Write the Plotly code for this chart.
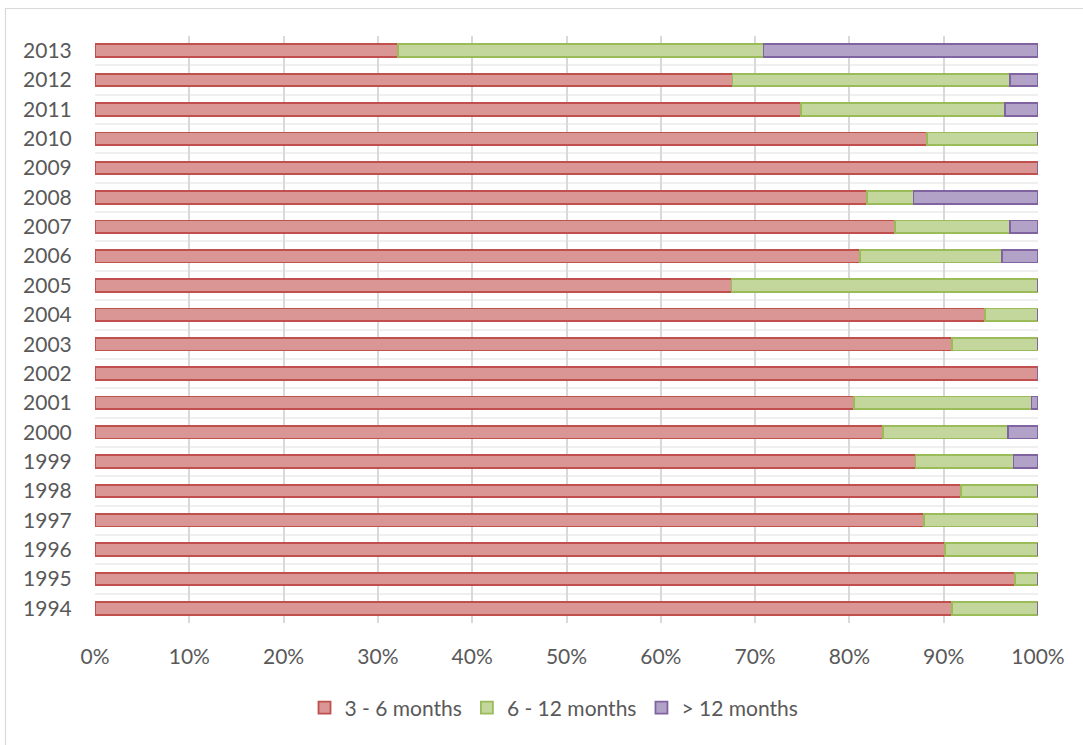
import plotly.graph_objects as go

years = [str(y) for y in range(1994, 2014)]
m3_6 = [90.9, 97.6, 90.1, 87.9, 91.8, 87.0, 83.6, 80.5, 100.0, 90.9,
        94.4, 67.5, 81.1, 84.8, 81.9, 100.0, 88.2, 74.9, 67.6, 32.1]
m6_12 = [9.1, 2.4, 9.9, 12.1, 8.2, 10.4, 13.2, 18.8, 0.0, 9.1,
         5.6, 32.5, 15.1, 12.2, 4.9, 0.0, 11.8, 21.6, 29.4, 38.8]
m12p = [0.0, 0.0, 0.0, 0.0, 0.0, 2.6, 3.2, 0.7, 0.0, 0.0,
        0.0, 0.0, 3.8, 3.0, 13.2, 0.0, 0.0, 3.5, 3.0, 29.1]
series_names = ["3 - 6 months", "6 - 12 months", "> 12 months"]
x_ticks = list(range(0, 101, 10))

fills = ["#D99694", "#C3D69B", "#B3A2C7"]
edges = ["#C0504D", "#9BBB59", "#8064A2"]

ypos = list(range(len(years)))

fig = go.Figure()
for name, vals, fc, ec in zip(series_names, [m3_6, m6_12, m12p], fills, edges):
    fig.add_trace(go.Bar(
        y=ypos, x=vals, name=name, orientation="h",
        marker=dict(color=fc, line=dict(color=ec, width=1.8)),
        hoverinfo="x+name",
    ))

W, H = 1083, 745
ml, mr, mt, mb = 95, 45, 36, 122
pw = W - ml - mr
ph = H - mt - mb

fig.update_layout(
    width=W, height=H,
    barmode="stack", bargap=0.57,
    paper_bgcolor="white", plot_bgcolor="white",
    margin=dict(l=ml, r=mr, t=mt, b=mb, autoexpand=False),
    font=dict(family="Lato, Open Sans, sans-serif", size=21, color="#595959"),
    showlegend=True,
    legend=dict(orientation="h", x=(554 - ml) / pw, xanchor="center",
                y=-85 / ph, yanchor="middle",
                font=dict(size=21, color="#595959"),
                traceorder="normal", itemwidth=30),
    xaxis=dict(range=[0, 100], tickvals=x_ticks,
               ticktext=[f"{v}%" for v in x_ticks],
               showgrid=True, gridcolor="#D9D9D9", gridwidth=1.5,
               zeroline=False, showline=False,
               ticks="outside", ticklen=15, tickcolor="rgba(0,0,0,0)"),
    yaxis=dict(range=[-0.5, len(years) - 0.5], tickvals=ypos, ticktext=years,
               showgrid=False, zeroline=False, showline=False,
               ticks="outside", ticklen=18, tickcolor="rgba(0,0,0,0)",
               minor=dict(tickvals=[i - 0.5 for i in range(len(years) + 1)],
                          showgrid=True, gridcolor="#EFEFEF", gridwidth=1.5,
                          ticks="")),
)

# chart area border (only left/top edges visible in the window)
fig.add_shape(type="rect", xref="paper", yref="paper",
              x0=(5.5 - ml) / pw, x1=(W + 20 - ml) / pw,
              y0=-(mb + 20) / ph, y1=(H - mb - 8.5) / ph,
              line=dict(color="#D9D9D9", width=1.2), fillcolor="rgba(0,0,0,0)",
              layer="below")

fig.write_html("out.html", config={"displayModeBar": False},
               post_script="document.body.style.margin='0';document.body.style.overflow='hidden';")
